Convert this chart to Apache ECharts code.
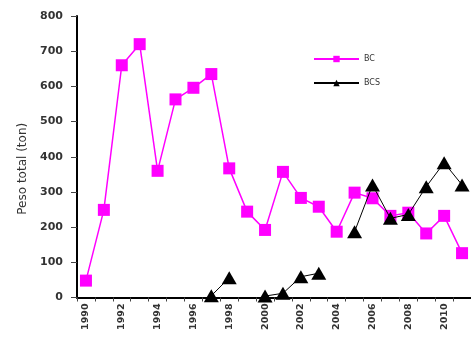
<!DOCTYPE html>
<html>
<head>
    <meta charset="utf-8">
    <title>Peso total</title>
    <script src="https://cdn.jsdelivr.net/npm/echarts@6/dist/echarts.min.js"></script>
    <style>
        html, body { margin: 0; padding: 0; background: #fff; }
    </style>
</head>
<body>
<div id="main" style="width: 471px;height:337px;"></div>
<script type="text/javascript">
    // anos
    const years = ['1990', '1991', '1992', '1993', '1994', '1995', '1996', '1997', '1998', '1999', '2000',
        '2001', '2002', '2003', '2004', '2005', '2006', '2007', '2008', '2009', '2010', '2011'];
    // BC
    const bc = [48, 249, 660, 720, 360, 563, 596, 635, 367, 244, 192,
        357, 283, 258, 187, 298, 282, 232, 241, 182, 232, 126];
    // BCS (sem dados = null)
    const bcs = [null, null, null, null, null, null, null, 5, 56, null, 4,
        12, 59, 69, null, 187, 320, 225, 236, 315, 383, 320];
    const yTicks = [0, 800, 100];

    const myChart = echarts.init(document.getElementById('main'));
    const font = 'DejaVu Sans, sans-serif';

    const option = {
        animation: false,
        backgroundColor: '#fff',
        grid: {left: 77, top: 16, width: 397, height: 281.5},
        legend: {
            orient: 'vertical',
            left: 308,
            top: 50,
            itemWidth: 45,
            itemHeight: 8,
            itemGap: 16,
            textStyle: {fontFamily: font, fontSize: 8, color: '#333'},
            data: ['BC', 'BCS']
        },
        xAxis: {
            type: 'category',
            data: years,
            boundaryGap: true,
            axisLine: {lineStyle: {color: '#000', width: 2}},
            axisTick: {show: true, length: 4, interval: 0, lineStyle: {color: '#444'}},
            axisLabel: {
                interval: 1, rotate: 90, margin: 6,
                fontFamily: font, fontSize: 9.5, fontWeight: 'bold', color: '#333'
            },
            splitLine: {show: false}
        },
        yAxis: {
            type: 'value',
            min: yTicks[0],
            max: yTicks[1],
            interval: yTicks[2],
            name: 'Peso total (ton)',
            nameLocation: 'middle',
            nameGap: 47,
            nameTextStyle: {fontFamily: font, fontSize: 12, color: '#333', padding: [0, 24, 0, 0]},
            axisLine: {show: true, lineStyle: {color: '#000', width: 2}},
            axisTick: {show: true, inside: false, length: 6, lineStyle: {color: '#444'}},
            axisLabel: {margin: 14, fontFamily: font, fontSize: 11, fontWeight: 'bold', color: '#333'},
            splitLine: {show: false}
        },
        series: [
            {
                name: 'BC',
                type: 'line',
                data: bc,
                symbol: 'rect',
                symbolSize: 12,
                showAllSymbol: true,
                itemStyle: {color: '#ff00ff'},
                lineStyle: {color: '#ff00ff', width: 1.5},
                z: 2
            },
            {
                name: 'BCS',
                type: 'line',
                data: bcs,
                connectNulls: false,
                symbol: 'triangle',
                symbolSize: [15, 13],
                showAllSymbol: true,
                itemStyle: {color: '#000'},
                lineStyle: {color: '#000', width: 1},
                z: 3
            }
        ]
    };

    myChart.setOption(option);
</script>
</body>
</html>
